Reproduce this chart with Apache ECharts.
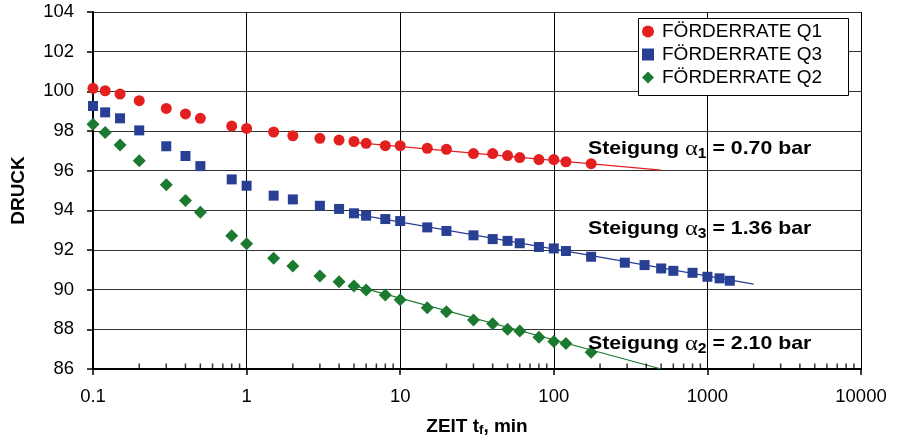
<!DOCTYPE html>
<html>
<head>
<meta charset="utf-8">
<script src="https://cdn.jsdelivr.net/npm/echarts@6/dist/echarts.min.js"></script>
<style>html,body{margin:0;padding:0;background:#fff}#c{width:898px;height:443px}</style>
</head>
<body>
<div id="c"></div>
<script>
// ---- data ----
var timesQ1 = [0.1,0.12,0.15,0.2,0.3,0.4,0.5,0.8,1,1.5,2,3,4,5,6,8,10,15,20,30,40,50,60,80,100,120,175];
var druckQ1 = [100.15,100.03,99.86,99.53,99.14,98.86,98.64,98.25,98.13,97.95,97.76,97.63,97.54,97.47,97.38,97.26,97.26,97.13,97.08,96.86,96.86,96.76,96.66,96.56,96.56,96.45,96.35];

var timesQ3 = [0.1,0.12,0.15,0.2,0.3,0.4,0.5,0.8,1,1.5,2,3,4,5,6,8,10,15,20,30,40,50,60,80,100,120,175,290,390,500,600,800,1000,1200,1400];
var druckQ3 = [99.26,98.94,98.64,98.03,97.23,96.74,96.23,95.56,95.24,94.74,94.55,94.23,94.07,93.85,93.73,93.56,93.46,93.14,92.96,92.74,92.55,92.46,92.34,92.15,92.08,91.95,91.66,91.36,91.24,91.07,90.95,90.85,90.65,90.57,90.45];

var timesQ2 = [0.1,0.12,0.15,0.2,0.3,0.4,0.5,0.8,1,1.5,2,3,4,5,6,8,10,15,20,30,40,50,60,80,100,120,175];
var druckQ2 = [98.34,97.93,97.29,96.50,95.29,94.50,93.90,92.72,92.32,91.59,91.19,90.69,90.40,90.18,89.98,89.73,89.49,89.09,88.89,88.47,88.28,88.00,87.91,87.60,87.39,87.29,86.85];

var trendQ1 = [[5, 97.43], [500, 96.03]];
var trendQ3 = [[5, 93.82], [2000, 90.28]];
var trendQ2 = [[5, 90.20], [500, 86.00]];

var seriesNames = ['FÖRDERRATE Q1', 'FÖRDERRATE Q3', 'FÖRDERRATE Q2'];
var xTickLabels = ['0.1', '1', '10', '100', '1000', '10000'];
var minorMultipliers = [2,3,4,5,6,7,8,9];
var decades = [0.1, 1, 10, 100, 1000];
var slopeLabels = [
  {idx: '1', val: '0.70'},
  {idx: '3', val: '1.36'},
  {idx: '2', val: '2.10'}
];

// ---- build ----
function pairs(xs, ys) { return xs.map(function (x, i) { return [x, ys[i]]; }); }
var minorTicks = [];
decades.forEach(function (d) { minorMultipliers.forEach(function (m) { minorTicks.push([d * m, 86]); }); });

var RED = '#e3201f', BLUE = '#283f94', GREEN = '#1b7a2f';
var FONT = 'Liberation Sans, Arial, Helvetica, sans-serif';

var chart = echarts.init(document.getElementById('c'), null, {renderer: 'canvas'});

function annot(i, y) {
  return {
    type: 'text', x: 588, y: y, scaleX: 1.12, z: 10,
    style: {
      text: '{b|Steigung }{a|α}{s|' + slopeLabels[i].idx + '}{b| = ' + slopeLabels[i].val + ' bar}',
      verticalAlign: 'middle', textVerticalAlign: 'middle', align: 'left', textAlign: 'left',
      rich: {
        b: {fontSize: 19, fontWeight: 'bold', fontFamily: FONT, fill: '#000', color: '#000'},
        a: {fontSize: 22, fontFamily: 'Liberation Serif, serif', fill: '#000', color: '#000'},
        s: {fontSize: 14, fontWeight: 'bold', fontFamily: FONT, fill: '#000', color: '#000', padding: [10, 0, 0, 0]}
      }
    }
  };
}

var option = {
  animation: false,
  backgroundColor: '#fff',
  grid: {left: 93, right: 37, top: 12, bottom: 74, containLabel: false, outerBoundsMode: 'none'},
  xAxis: {
    type: 'log', logBase: 10, min: 0.1, max: 10000,
    name: '{b|ZEIT t}{s|f}{b|, min}', nameLocation: 'middle', nameGap: 47,
    nameTextStyle: {
      rich: {
        b: {fontSize: 19, fontWeight: 'bold', fontFamily: FONT, color: '#000'},
        s: {fontSize: 13, fontWeight: 'bold', fontFamily: FONT, color: '#000', padding: [8, 0, 0, 0]}
      }
    },
    axisLine: {show: true, lineStyle: {color: '#000', width: 2}},
    axisTick: {show: true, inside: false, length: 6, lineStyle: {color: '#000', width: 1.5}},
    axisLabel: {
      color: '#000', fontSize: 18.5, fontFamily: FONT, margin: 18,
      formatter: function (v) { return xTickLabels[Math.round(Math.log10(v)) + 1]; }
    },
    splitLine: {show: true, lineStyle: {color: '#000', width: 1}},
    minorTick: {show: false}
  },
  yAxis: {
    type: 'value', min: 86, max: 104, interval: 2,
    name: 'DRUCK', nameLocation: 'middle', nameGap: 65, nameRotate: 90,
    nameTextStyle: {fontSize: 19, fontWeight: 'bold', fontFamily: FONT, color: '#000'},
    axisLine: {show: true, lineStyle: {color: '#000', width: 2}},
    axisTick: {show: true, inside: false, length: 6, lineStyle: {color: '#000', width: 1.5}},
    axisLabel: {color: '#000', fontSize: 18.5, fontFamily: FONT, margin: 19},
    splitLine: {show: true, lineStyle: {color: '#333', width: 1.2}}
  },
  legend: {
    orient: 'vertical', left: 642, top: 22, itemGap: 4, itemWidth: 12, itemHeight: 12,
    padding: 0, z: 12,
    textStyle: {fontSize: 19, fontFamily: FONT, color: '#000', padding: [0, 0, 0, 3]},
    data: [
      {name: seriesNames[0], icon: 'circle'},
      {name: seriesNames[1], icon: 'rect'},
      {name: seriesNames[2], icon: 'diamond'}
    ]
  },
  graphic: [
    {type: 'rect', shape: {x: 638.5, y: 18.5, width: 210, height: 77}, z: 11,
     style: {fill: '#fff', stroke: '#000', lineWidth: 1}},
    annot(0, 149),
    annot(1, 229),
    annot(2, 344)
  ],
  series: [
    {type: 'line', data: trendQ1, symbol: 'none', lineStyle: {color: RED, width: 1.2}, z: 2, silent: true},
    {type: 'line', data: trendQ3, symbol: 'none', lineStyle: {color: BLUE, width: 1.2}, z: 2, silent: true},
    {type: 'line', data: trendQ2, symbol: 'none', lineStyle: {color: GREEN, width: 1.2}, z: 2, silent: true},
    {name: seriesNames[0], type: 'scatter', data: pairs(timesQ1, druckQ1), symbol: 'circle', symbolSize: 11,
     itemStyle: {color: RED, opacity: 1}, z: 3},
    {name: seriesNames[1], type: 'scatter', data: pairs(timesQ3, druckQ3), symbol: 'rect', symbolSize: 10,
     itemStyle: {color: BLUE, opacity: 1}, z: 3},
    {name: seriesNames[2], type: 'scatter', data: pairs(timesQ2, druckQ2), symbol: 'diamond', symbolSize: 13,
     itemStyle: {color: GREEN, opacity: 1}, z: 3},
    {type: 'scatter', data: minorTicks, symbol: 'rect', symbolSize: [1.5, 5], symbolOffset: [0, -3],
     itemStyle: {color: '#000'}, z: 4, silent: true, clip: false}
  ]
};
chart.setOption(option);
</script>
</body>
</html>
